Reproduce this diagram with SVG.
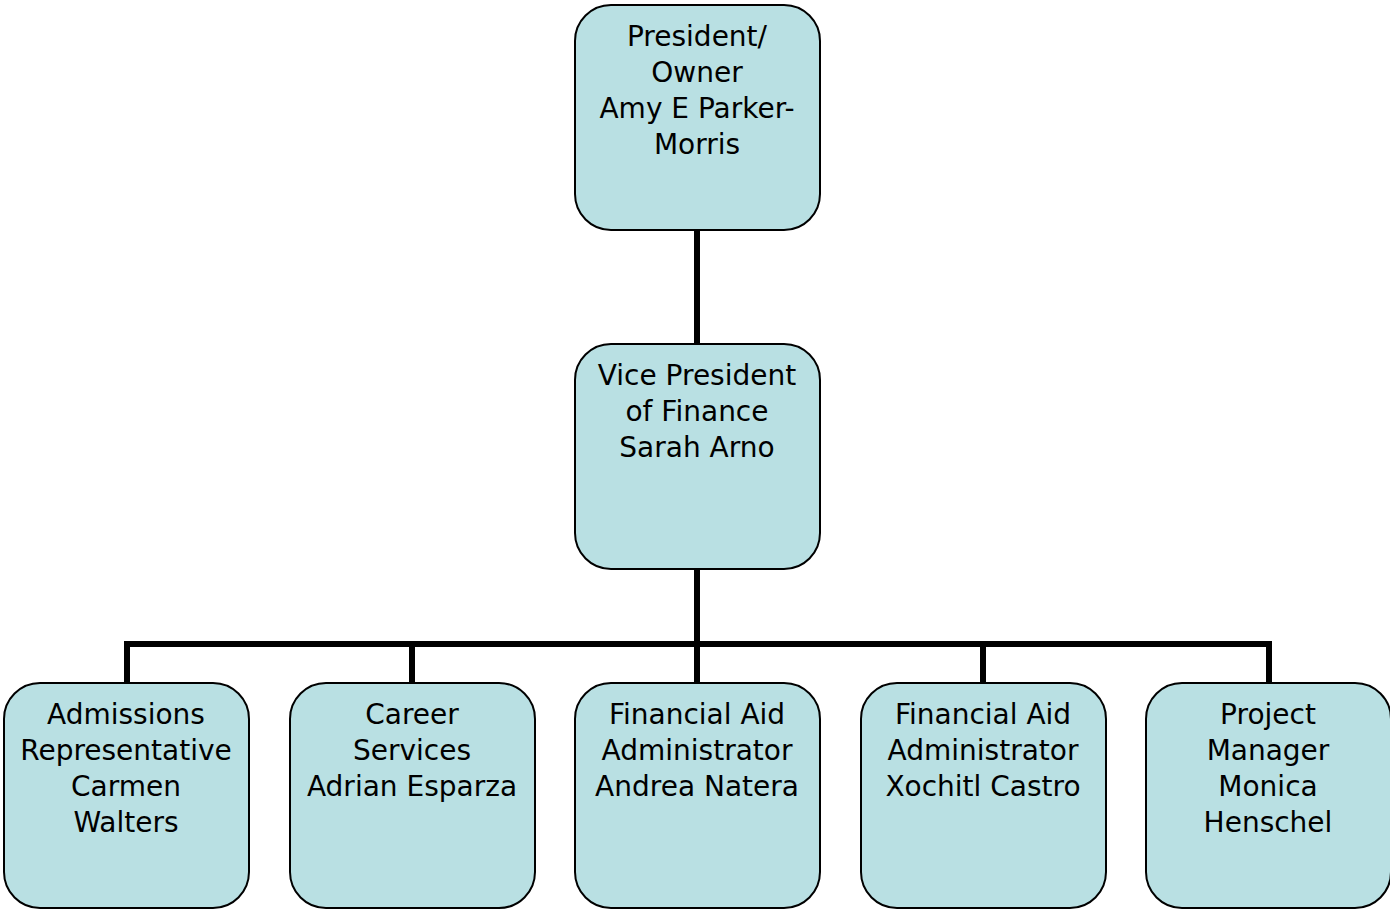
<svg xmlns="http://www.w3.org/2000/svg" width="1390" height="909" viewBox="0 0 1390 909">
<style>
.box{fill:#B9E0E3;stroke:#000;stroke-width:2}
.lbl{font-family:"DejaVu Sans","Liberation Sans",sans-serif;font-size:28px;fill:#000;text-anchor:middle}
.conn{stroke:#000;stroke-width:6;fill:none}
</style>
<rect width="1390" height="909" fill="#fff"/>
<g id="connectors">
<line class="conn" x1="697" y1="230" x2="697" y2="344"/>
<line class="conn" x1="697" y1="569" x2="697" y2="683"/>
<polyline class="conn" points="127,683 127,644 1269,644 1269,683"/>
<line class="conn" x1="412" y1="644" x2="412" y2="683"/>
<line class="conn" x1="983" y1="644" x2="983" y2="683"/>
</g>
<g id="president">
<rect class="box" x="575" y="5" width="245" height="225" rx="36"/>
<text class="lbl"><tspan x="697" y="46">President/</tspan><tspan x="697" y="82">Owner</tspan><tspan x="697" y="118">Amy E Parker-</tspan><tspan x="697" y="154">Morris</tspan></text>
</g>
<g id="vp">
<rect class="box" x="575" y="344" width="245" height="225" rx="36"/>
<text class="lbl"><tspan x="697" y="385">Vice President</tspan><tspan x="697" y="421">of Finance</tspan><tspan x="697" y="457">Sarah Arno</tspan></text>
</g>
<g id="admissions">
<rect class="box" x="4" y="683" width="245" height="225" rx="36"/>
<text class="lbl"><tspan x="126" y="724">Admissions</tspan><tspan x="126" y="760">Representative</tspan><tspan x="126" y="796">Carmen</tspan><tspan x="126" y="832">Walters</tspan></text>
</g>
<g id="career">
<rect class="box" x="290" y="683" width="245" height="225" rx="36"/>
<text class="lbl"><tspan x="412" y="724">Career</tspan><tspan x="412" y="760">Services</tspan><tspan x="412" y="796">Adrian Esparza</tspan></text>
</g>
<g id="finaid1">
<rect class="box" x="575" y="683" width="245" height="225" rx="36"/>
<text class="lbl"><tspan x="697" y="724">Financial Aid</tspan><tspan x="697" y="760">Administrator</tspan><tspan x="697" y="796">Andrea Natera</tspan></text>
</g>
<g id="finaid2">
<rect class="box" x="861" y="683" width="245" height="225" rx="36"/>
<text class="lbl"><tspan x="983" y="724">Financial Aid</tspan><tspan x="983" y="760">Administrator</tspan><tspan x="983" y="796">Xochitl Castro</tspan></text>
</g>
<g id="pm">
<rect class="box" x="1146" y="683" width="245" height="225" rx="36"/>
<text class="lbl"><tspan x="1268" y="724">Project</tspan><tspan x="1268" y="760">Manager</tspan><tspan x="1268" y="796">Monica</tspan><tspan x="1268" y="832">Henschel</tspan></text>
</g>
</svg>
